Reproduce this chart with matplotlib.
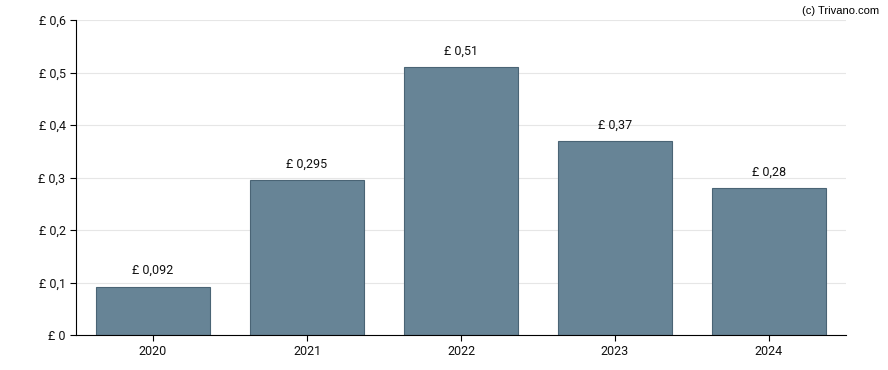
import matplotlib
matplotlib.use("Agg")
from matplotlib import pyplot as plt

years = ["2020", "2021", "2022", "2023", "2024"]
dividends = [0.092, 0.295, 0.51, 0.37, 0.28]
labels = ["£ 0,092", "£ 0,295", "£ 0,51", "£ 0,37", "£ 0,28"]
y_ticks = [0, 0.1, 0.2, 0.3, 0.4, 0.5, 0.6]
y_tick_labels = ["£ 0", "£ 0,1", "£ 0,2", "£ 0,3", "£ 0,4", "£ 0,5", "£ 0,6"]

plt.rcParams['font.family'] = ['Roboto', 'DejaVu Sans']
plt.rcParams['font.size'] = 9

fig = plt.figure(figsize=(8.88, 3.70), dpi=100)
ax = fig.add_axes([0.0856, 0.0946, 0.8671, 0.8513])

x = range(len(years))
ax.bar(x, dividends, width=0.74, color='#678496', edgecolor='#4a6475', linewidth=0.8, zorder=2)
for i, (v, lab) in enumerate(zip(dividends, labels)):
    ax.text(i, v + 0.018, lab, ha='center', va='bottom', fontsize=9, color='#111111')

ax.set_xlim(-0.5, len(years) - 0.5)
ax.set_ylim(0, 0.6)
ax.set_xticks(list(x))
ax.set_xticklabels(years)
ax.set_yticks(y_ticks)
ax.set_yticklabels(y_tick_labels)
ax.yaxis.grid(True, color='#e6e6e6', linewidth=0.8, zorder=0)
ax.set_axisbelow(True)

for side in ['top', 'right']:
    ax.spines[side].set_visible(False)
ax.spines['left'].set_color('black')
ax.spines['bottom'].set_color('black')
ax.tick_params(axis='both', length=4, colors='black', labelsize=9, labelcolor='#111111')

fig.text(0.99, 0.985, "(c) Trivano.com", ha='right', va='top', fontsize=8, family=['Liberation Sans', 'DejaVu Sans'])

fig.savefig("out.png", dpi=100)
